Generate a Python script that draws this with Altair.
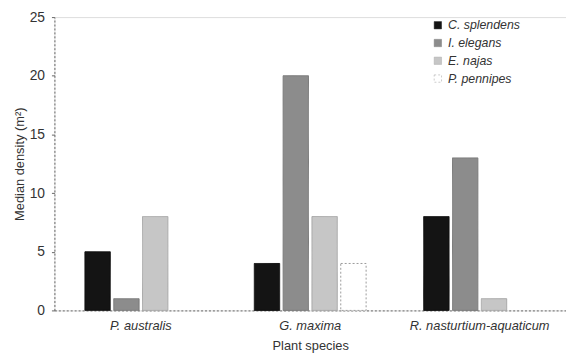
import altair as alt
import pandas as pd

plants = ["P. australis", "G. maxima", "R. nasturtium-aquaticum"]
species = ["C. splendens", "I. elegans", "E. najas", "P. pennipes"]
c_splendens = [5, 4, 8]
i_elegans = [1, 20, 13]
e_najas = [8, 8, 1]
p_pennipes = [0, 4, 0]

fills = ["#141414", "#8c8c8c", "#c6c6c6", "#ffffff"]
strokes = ["#111111", "#7a7a7a", "#a8a8a8", "#9a9a9a"]

rows = []
for i, p in enumerate(plants):
    for s, vals in zip(species, [c_splendens, i_elegans, e_najas, p_pennipes]):
        rows.append({"plant": p, "species": s, "density": vals[i]})
df = pd.DataFrame(rows)
df = df[df["density"] > 0]

font = "Liberation Sans"

chart = alt.Chart(df).mark_bar(strokeWidth=1).encode(
    x=alt.X("plant:N", sort=plants, title="Plant species",
            scale=alt.Scale(domain=plants, paddingInner=0.34, paddingOuter=0.18),
            axis=alt.Axis(labelAngle=0, labelFontStyle="italic", labelFontSize=13,
                          labelColor="#333", labelPadding=9, ticks=False,
                          domainColor="#666", domainDash=[2, 2], domainWidth=1,
                          titleFontSize=13, titleFontWeight="normal", titleColor="#333",
                          titlePadding=8)),
    xOffset=alt.XOffset("species:N", sort=species,
                        scale=alt.Scale(domain=species, paddingInner=0.12)),
    y=alt.Y("density:Q", title="Median density (m²)",
            scale=alt.Scale(domain=[0, 25]),
            axis=alt.Axis(values=[0, 5, 10, 15, 20, 25], grid=False, tickSize=3,
                          tickColor="#666", domainColor="#666", domainDash=[2, 2],
                          labelFontSize=14, labelColor="#333", labelPadding=7,
                          titleFontSize=13, titleFontWeight="normal", titleColor="#333",
                          titlePadding=3)),
    fill=alt.Fill("species:N", sort=species,
                  scale=alt.Scale(domain=species, range=fills),
                  legend=alt.Legend(title=None, orient="none", legendX=382, legendY=2,
                                    symbolType="square", symbolSize=55,
                                    symbolStrokeColor="#888", symbolStrokeWidth=0.5,
                                    labelFontStyle="italic", labelFontSize=12.5,
                                    labelColor="#333", rowPadding=5, labelOffset=4)),
    stroke=alt.Stroke("species:N", sort=species,
                      scale=alt.Scale(domain=species, range=strokes), legend=None),
    strokeDash=alt.StrokeDash("species:N", sort=species,
                              scale=alt.Scale(domain=species,
                                              range=[[1, 0], [1, 0], [1, 0], [2, 2]]),
                              legend=None),
).properties(
    width=518, height=297,
    autosize=alt.AutoSizeParams(type="none"),
    padding={"left": 47, "top": 7, "right": 0, "bottom": 48},
).configure_view(stroke=None).configure(font=font)

chart.save("out.html", embed_options={"renderer": "svg", "actions": False})
